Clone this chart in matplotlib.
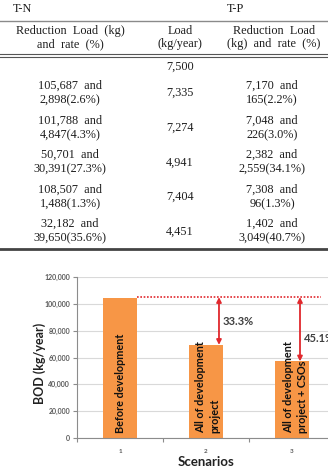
import matplotlib
matplotlib.use('Agg')
import matplotlib.pyplot as plt
from matplotlib.lines import Line2D

# ---------------- table data ----------------
tn_after = [105687, 101788, 50701, 108507, 32182]
tn_reduction = [2898, 4847, 30391, 1488, 39650]
tn_rate = [2.6, 4.3, 27.3, 1.3, 35.6]
tp_load = [7500, 7335, 7274, 4941, 7404, 4451]
tp_after = [7170, 7048, 2382, 7308, 1402]
tp_reduction = [165, 226, 2559, 96, 3049]
tp_rate = [2.2, 3.0, 34.1, 1.3, 40.7]

# ---------------- chart data ----------------
scenarios = [1, 2, 3]
bod = [104000, 69400, 57100]
bar_labels = ["Before development", "All of development\nproject",
              "All of development\nproject + CSOs"]
baseline = 105000
reduction_labels = ["33.3%", "45.1%"]

W, H = 328, 467
fig = plt.figure(figsize=(W / 100, H / 100), dpi=100)
fig.patch.set_facecolor('white')


def fx(x):
    return x / W


def fy(y):
    return 1 - y / H


serif = 'Liberation Serif'
tc = '#1e1e1e'
fs = 8.8


def ttext(x, y, s, ha='center'):
    fig.text(fx(x), fy(y), s, ha=ha, va='center', family=serif,
             fontsize=fs, color=tc)


def hline(y, lw, color):
    fig.add_artist(Line2D([0, 1], [fy(y), fy(y)], transform=fig.transFigure,
                          lw=lw, color=color))


# table header
ttext(13, 9, 'T-N', ha='left')
ttext(227, 9, 'T-P', ha='left')
hline(20.5, 1.0, '#8a8a8a')
ttext(70, 31, 'Reduction  Load  (kg)')
ttext(70, 44, 'and  rate  (%)')
ttext(180, 31, 'Load')
ttext(180, 44, '(kg/year)')
ttext(274, 31, 'Reduction  Load')
ttext(274, 44, '(kg)  and  rate  (%)')
hline(54, 0.8, '#555555')
hline(56.7, 0.8, '#555555')

# table body
ttext(180, 67, f'{tp_load[0]:,}')
row_y = [(85.5, 100), (120.5, 135), (155, 169.5), (189.5, 204), (224, 238.5)]
for i, (y1, y2) in enumerate(row_y):
    ttext(70, y1, f'{tn_after[i]:,}  and')
    ttext(70, y2, f'{tn_reduction[i]:,}({tn_rate[i]:.1f}%)')
    ttext(180, (y1 + y2) / 2, f'{tp_load[i + 1]:,}')
    ttext(272, y1, f'{tp_after[i]:,}  and')
    ttext(272, y2, f'{tp_reduction[i]:,}({tp_rate[i]:.1f}%)')
hline(249, 2.0, '#444444')

# ---------------- chart ----------------
cf = 'Lato'
red = '#e0282d'
ax = fig.add_axes([fx(77), fy(438), (335 - 77) / W, (438 - 277) / H])
ax.bar(scenarios, bod, width=0.4, color='#F79646', zorder=2)
ax.set_xlim(0.5, 3.5)
ax.set_ylim(0, 120000)
yt = list(range(0, 120001, 20000))
ax.set_yticks(yt)
ax.set_yticklabels([f'{v:,}' for v in yt])
ax.yaxis.grid(True, color='#d9d9d9', lw=0.8)
ax.set_axisbelow(True)
for s in ['top', 'right']:
    ax.spines[s].set_visible(False)
for s in ['left', 'bottom']:
    ax.spines[s].set_color('#8c8c8c')
    ax.spines[s].set_linewidth(0.8)
ax.set_xticks([0.5, 1.5, 2.5, 3.5])
ax.set_xticklabels([])
ax.set_xticks(scenarios, minor=True)
ax.set_xticklabels([str(s) for s in scenarios], minor=True)
ax.tick_params(axis='x', which='major', length=3, color='#8c8c8c')
ax.tick_params(axis='x', which='minor', length=0, pad=8, labelsize=4.5,
               labelcolor='#595959')
ax.tick_params(axis='y', length=3, color='#8c8c8c', labelsize=5,
               labelcolor='#595959', pad=2)
for lab in ax.get_yticklabels() + ax.get_xticklabels(minor=True):
    lab.set_family(cf)
    lab.set_fontweight('bold')

ax.plot([1.2, 3.34], [baseline, baseline], color=red, lw=1.2,
        ls=(0, (1, 1)), zorder=3)
arrow_x = [2.151, 3.093]
for k, xa in enumerate(arrow_x):
    ax.annotate('', xy=(xa, bod[k + 1]), xytext=(xa, baseline),
                arrowprops=dict(arrowstyle='<|-|>', color=red, lw=1.3,
                                mutation_scale=7, shrinkA=0, shrinkB=0),
                zorder=4)
ax.text(2.198, 87200, reduction_labels[0], ha='left', va='center',
        family=cf, fontweight='bold', fontsize=8, color='#404040')
ax.text(3.14, 73800, reduction_labels[1], ha='left', va='center',
        family=cf, fontweight='bold', fontsize=8, color='#404040')

bar_text_x = [1.0, 2.02, 3.04]
for i, lbl in enumerate(bar_labels):
    ax.text(bar_text_x[i], 3500, lbl, rotation=90, ha='center', va='bottom',
            multialignment='left', family=cf, fontweight='bold',
            fontsize=7.8, color='#111111', linespacing=1.4, zorder=5)

fig.text(fx(40), fy(363.5), 'BOD (kg/year)', rotation=90, ha='center',
         va='center', family=cf, fontweight='bold', fontsize=9,
         color='#222222')
fig.text(fx(206), fy(462), 'Scenarios', ha='center', va='center',
         family=cf, fontweight='bold', fontsize=9.5, color='#222222')

fig.savefig('out.png', dpi=100)
